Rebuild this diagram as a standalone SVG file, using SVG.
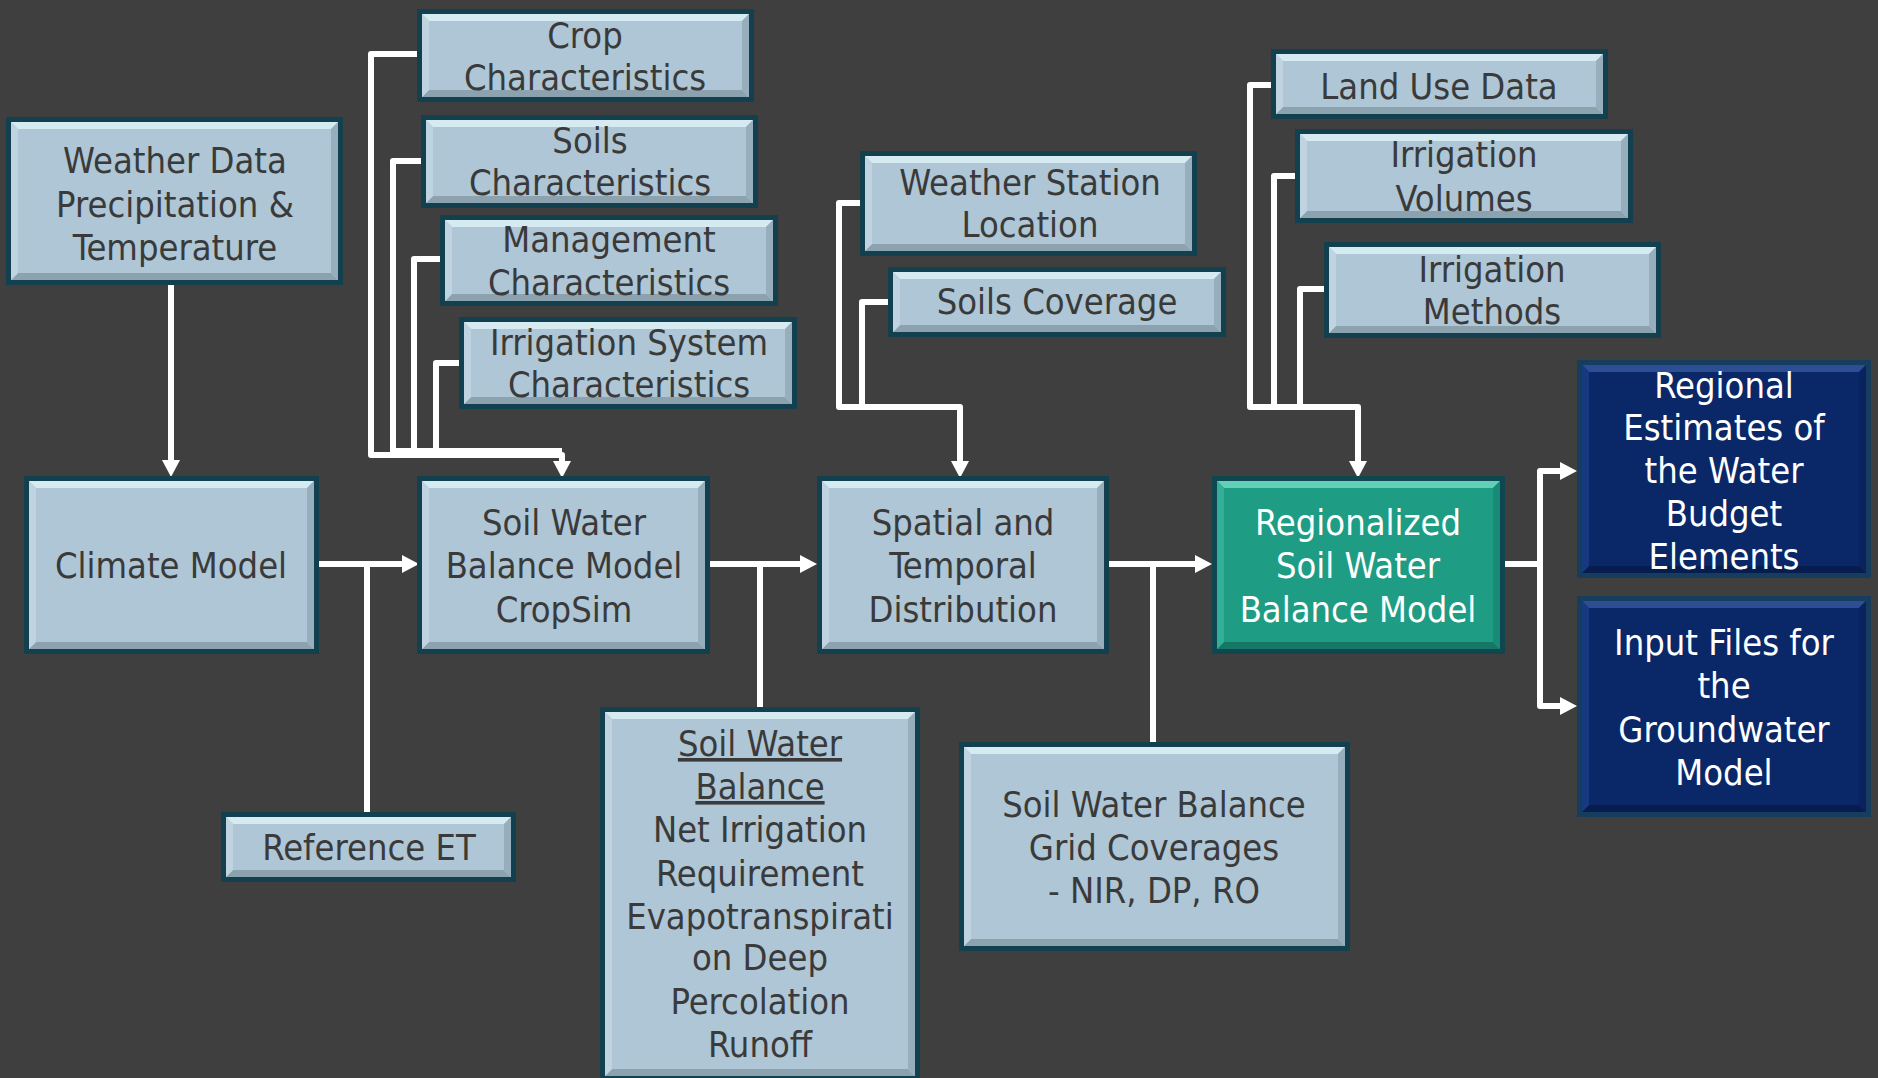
<svg xmlns="http://www.w3.org/2000/svg" width="1878" height="1078" viewBox="0 0 1878 1078">
<style>
.bg{fill:#3f3f3f}
.lt .bd{fill:#12404f}.lt .fc{fill:#aec6d5}.lt .bt{fill:#d6eaf2}.lt .bb{fill:#8ca2af}.lt .bl{fill:#bfd4e0}.lt .br{fill:#97aebc}
.tl .bd{fill:#0f4750}.tl .fc{fill:#1e9c84}.tl .bt{fill:#62cfb8}.tl .bb{fill:#157866}.tl .bl{fill:#35ae97}.tl .br{fill:#188a75}
.db .bd{fill:#163c5e}.db .fc{fill:#0a2868}.db .bt{fill:#2d4e94}.db .bb{fill:#071d4f}.db .bl{fill:#17397f}.db .br{fill:#0a235e}
text{font-family:"DejaVu Sans Condensed","Liberation Sans Narrow","Roboto Condensed","DejaVu Sans",sans-serif;font-stretch:condensed;font-size:36px;fill:#3a3a3a;text-anchor:middle}
.tl text,.db text{fill:#ffffff}
.cn path{fill:none;stroke:#ffffff;stroke-width:6;stroke-linejoin:round}
.u{text-decoration:underline}
</style>
<defs>
<marker id="ah" viewBox="0 0 17 18" markerWidth="17" markerHeight="18" refX="5" refY="9" orient="auto" markerUnits="userSpaceOnUse">
<path d="M0,0 L17,9 L0,18 z" fill="#ffffff"/>
</marker>
</defs>
<rect class="bg" x="0" y="0" width="1878" height="1078"/>

<g id="connectors" class="cn">
<path d="M171,285 V465" marker-end="url(#ah)"/>
<path d="M421,161 H393 V451 H562"/>
<path d="M440,259 H414 V451"/>
<path d="M459,363 H436 V451"/>
<path d="M417,54 H371 V455 H562 V466" marker-end="url(#ah)"/>
<path d="M888,302 H862 V407"/>
<path d="M860,203 H839 V407 H960 V466" marker-end="url(#ah)"/>
<path d="M1295,176 H1274 V407"/>
<path d="M1324,289 H1300 V407"/>
<path d="M1271,85 H1250 V407 H1358 V466" marker-end="url(#ah)"/>
<path d="M367,812 V564"/>
<path d="M319,564 H407" marker-end="url(#ah)"/>
<path d="M760,707 V564"/>
<path d="M710,564 H805" marker-end="url(#ah)"/>
<path d="M1153,742 V564"/>
<path d="M1109,564 H1200" marker-end="url(#ah)"/>
<path d="M1505,564 H1540"/>
<path d="M1540,706 V471 H1565" marker-end="url(#ah)"/>
<path d="M1540,471 V706 H1565" marker-end="url(#ah)"/>
</g>

<g id="n-crop" class="lt"><g transform="translate(417,9)">
<rect class="bd" width="337" height="93"/><rect class="fc" x="5" y="5" width="327" height="83"/>
<polygon class="bt" points="5,5 332,5 325,12 12,12"/><polygon class="bb" points="5,88 332,88 325,81 12,81"/>
<polygon class="bl" points="5,5 12,12 12,81 5,88"/><polygon class="br" points="332,5 325,12 325,81 332,88"/></g>
<text><tspan x="585" y="48">Crop</tspan><tspan x="585" y="90">Characteristics</tspan></text></g>

<g id="n-soils" class="lt"><g transform="translate(421,115)">
<rect class="bd" width="337" height="93"/><rect class="fc" x="5" y="5" width="327" height="83"/>
<polygon class="bt" points="5,5 332,5 325,12 12,12"/><polygon class="bb" points="5,88 332,88 325,81 12,81"/>
<polygon class="bl" points="5,5 12,12 12,81 5,88"/><polygon class="br" points="332,5 325,12 325,81 332,88"/></g>
<text><tspan x="590" y="153">Soils</tspan><tspan x="590" y="195">Characteristics</tspan></text></g>

<g id="n-management" class="lt"><g transform="translate(440,215)">
<rect class="bd" width="338" height="91"/><rect class="fc" x="5" y="5" width="328" height="81"/>
<polygon class="bt" points="5,5 333,5 326,12 12,12"/><polygon class="bb" points="5,86 333,86 326,79 12,79"/>
<polygon class="bl" points="5,5 12,12 12,79 5,86"/><polygon class="br" points="333,5 326,12 326,79 333,86"/></g>
<text><tspan x="609" y="252">Management</tspan><tspan x="609" y="295">Characteristics</tspan></text></g>

<g id="n-irrsys" class="lt"><g transform="translate(459,317)">
<rect class="bd" width="338" height="92"/><rect class="fc" x="5" y="5" width="328" height="82"/>
<polygon class="bt" points="5,5 333,5 326,12 12,12"/><polygon class="bb" points="5,87 333,87 326,80 12,80"/>
<polygon class="bl" points="5,5 12,12 12,80 5,87"/><polygon class="br" points="333,5 326,12 326,80 333,87"/></g>
<text><tspan x="629" y="355">Irrigation System</tspan><tspan x="629" y="397">Characteristics</tspan></text></g>

<g id="n-weather" class="lt"><g transform="translate(6,117)">
<rect class="bd" width="337" height="168"/><rect class="fc" x="5" y="5" width="327" height="158"/>
<polygon class="bt" points="5,5 332,5 325,12 12,12"/><polygon class="bb" points="5,163 332,163 325,156 12,156"/>
<polygon class="bl" points="5,5 12,12 12,156 5,163"/><polygon class="br" points="332,5 325,12 325,156 332,163"/></g>
<text><tspan x="175" y="173">Weather Data</tspan><tspan x="175" y="217">Precipitation &amp;</tspan><tspan x="175" y="260">Temperature</tspan></text></g>

<g id="n-climate" class="lt"><g transform="translate(24,476)">
<rect class="bd" width="295" height="178"/><rect class="fc" x="5" y="5" width="285" height="168"/>
<polygon class="bt" points="5,5 290,5 283,12 12,12"/><polygon class="bb" points="5,173 290,173 283,166 12,166"/>
<polygon class="bl" points="5,5 12,12 12,166 5,173"/><polygon class="br" points="290,5 283,12 283,166 290,173"/></g>
<text><tspan x="171" y="578">Climate Model</tspan></text></g>

<g id="n-swbm" class="lt"><g transform="translate(417,476)">
<rect class="bd" width="293" height="178"/><rect class="fc" x="5" y="5" width="283" height="168"/>
<polygon class="bt" points="5,5 288,5 281,12 12,12"/><polygon class="bb" points="5,173 288,173 281,166 12,166"/>
<polygon class="bl" points="5,5 12,12 12,166 5,173"/><polygon class="br" points="288,5 281,12 281,166 288,173"/></g>
<text><tspan x="564" y="535">Soil Water</tspan><tspan x="564" y="578">Balance Model</tspan><tspan x="564" y="622">CropSim</tspan></text></g>

<g id="n-spatial" class="lt"><g transform="translate(817,476)">
<rect class="bd" width="292" height="178"/><rect class="fc" x="5" y="5" width="282" height="168"/>
<polygon class="bt" points="5,5 287,5 280,12 12,12"/><polygon class="bb" points="5,173 287,173 280,166 12,166"/>
<polygon class="bl" points="5,5 12,12 12,166 5,173"/><polygon class="br" points="287,5 280,12 280,166 287,173"/></g>
<text><tspan x="963" y="535">Spatial and</tspan><tspan x="963" y="578">Temporal</tspan><tspan x="963" y="622">Distribution</tspan></text></g>

<g id="n-regionalized" class="tl"><g transform="translate(1212,476)">
<rect class="bd" width="293" height="178"/><rect class="fc" x="5" y="5" width="283" height="168"/>
<polygon class="bt" points="5,5 288,5 281,12 12,12"/><polygon class="bb" points="5,173 288,173 281,166 12,166"/>
<polygon class="bl" points="5,5 12,12 12,166 5,173"/><polygon class="br" points="288,5 281,12 281,166 288,173"/></g>
<text><tspan x="1358" y="535">Regionalized</tspan><tspan x="1358" y="578">Soil Water</tspan><tspan x="1358" y="622">Balance Model</tspan></text></g>

<g id="n-refet" class="lt"><g transform="translate(221,812)">
<rect class="bd" width="295" height="70"/><rect class="fc" x="5" y="5" width="285" height="60"/>
<polygon class="bt" points="5,5 290,5 283,12 12,12"/><polygon class="bb" points="5,65 290,65 283,58 12,58"/>
<polygon class="bl" points="5,5 12,12 12,58 5,65"/><polygon class="br" points="290,5 283,12 283,58 290,65"/></g>
<text><tspan x="369" y="860">Reference ET</tspan></text></g>

<g id="n-swb" class="lt"><g transform="translate(600,707)">
<rect class="bd" width="320" height="374"/><rect class="fc" x="5" y="5" width="310" height="364"/>
<polygon class="bt" points="5,5 315,5 308,12 12,12"/><polygon class="bb" points="5,369 315,369 308,362 12,362"/>
<polygon class="bl" points="5,5 12,12 12,362 5,369"/><polygon class="br" points="315,5 308,12 308,362 315,369"/></g>
<text><tspan class="u" x="760" y="756">Soil Water</tspan><tspan class="u" x="760" y="799">Balance</tspan><tspan x="760" y="842">Net Irrigation</tspan><tspan x="760" y="886">Requirement</tspan><tspan x="760" y="929">Evapotranspirati</tspan><tspan x="760" y="970">on Deep</tspan><tspan x="760" y="1014">Percolation</tspan><tspan x="760" y="1057">Runoff</tspan></text></g>

<g id="n-grid" class="lt"><g transform="translate(959,742)">
<rect class="bd" width="391" height="209"/><rect class="fc" x="5" y="5" width="381" height="199"/>
<polygon class="bt" points="5,5 386,5 379,12 12,12"/><polygon class="bb" points="5,204 386,204 379,197 12,197"/>
<polygon class="bl" points="5,5 12,12 12,197 5,204"/><polygon class="br" points="386,5 379,12 379,197 386,204"/></g>
<text><tspan x="1154" y="817">Soil Water Balance</tspan><tspan x="1154" y="860">Grid Coverages</tspan><tspan x="1154" y="903">- NIR, DP, RO</tspan></text></g>

<g id="n-regest" class="db"><g transform="translate(1577,360)">
<rect class="bd" width="294" height="218"/><rect class="fc" x="5" y="5" width="284" height="208"/>
<polygon class="bt" points="5,5 289,5 282,12 12,12"/><polygon class="bb" points="5,213 289,213 282,206 12,206"/>
<polygon class="bl" points="5,5 12,12 12,206 5,213"/><polygon class="br" points="289,5 282,12 282,206 289,213"/></g>
<text><tspan x="1724" y="398">Regional</tspan><tspan x="1724" y="440">Estimates of</tspan><tspan x="1724" y="483">the Water</tspan><tspan x="1724" y="526">Budget</tspan><tspan x="1724" y="569">Elements</tspan></text></g>

<g id="n-input" class="db"><g transform="translate(1577,596)">
<rect class="bd" width="294" height="221"/><rect class="fc" x="5" y="5" width="284" height="211"/>
<polygon class="bt" points="5,5 289,5 282,12 12,12"/><polygon class="bb" points="5,216 289,216 282,209 12,209"/>
<polygon class="bl" points="5,5 12,12 12,209 5,216"/><polygon class="br" points="289,5 282,12 282,209 289,216"/></g>
<text><tspan x="1724" y="655">Input Files for</tspan><tspan x="1724" y="698">the</tspan><tspan x="1724" y="742">Groundwater</tspan><tspan x="1724" y="785">Model</tspan></text></g>

<g id="n-landuse" class="lt"><g transform="translate(1271,49)">
<rect class="bd" width="337" height="70"/><rect class="fc" x="5" y="5" width="327" height="60"/>
<polygon class="bt" points="5,5 332,5 325,12 12,12"/><polygon class="bb" points="5,65 332,65 325,58 12,58"/>
<polygon class="bl" points="5,5 12,12 12,58 5,65"/><polygon class="br" points="332,5 325,12 325,58 332,65"/></g>
<text><tspan x="1439" y="99">Land Use Data</tspan></text></g>

<g id="n-irrvol" class="lt"><g transform="translate(1295,129)">
<rect class="bd" width="338" height="94"/><rect class="fc" x="5" y="5" width="328" height="84"/>
<polygon class="bt" points="5,5 333,5 326,12 12,12"/><polygon class="bb" points="5,89 333,89 326,82 12,82"/>
<polygon class="bl" points="5,5 12,12 12,82 5,89"/><polygon class="br" points="333,5 326,12 326,82 333,89"/></g>
<text><tspan x="1464" y="167">Irrigation</tspan><tspan x="1464" y="211">Volumes</tspan></text></g>

<g id="n-irrmeth" class="lt"><g transform="translate(1324,242)">
<rect class="bd" width="337" height="96"/><rect class="fc" x="5" y="5" width="327" height="86"/>
<polygon class="bt" points="5,5 332,5 325,12 12,12"/><polygon class="bb" points="5,91 332,91 325,84 12,84"/>
<polygon class="bl" points="5,5 12,12 12,84 5,91"/><polygon class="br" points="332,5 325,12 325,84 332,91"/></g>
<text><tspan x="1492" y="282">Irrigation</tspan><tspan x="1492" y="324">Methods</tspan></text></g>

<g id="n-wsl" class="lt"><g transform="translate(860,151)">
<rect class="bd" width="337" height="105"/><rect class="fc" x="5" y="5" width="327" height="95"/>
<polygon class="bt" points="5,5 332,5 325,12 12,12"/><polygon class="bb" points="5,100 332,100 325,93 12,93"/>
<polygon class="bl" points="5,5 12,12 12,93 5,100"/><polygon class="br" points="332,5 325,12 325,93 332,100"/></g>
<text><tspan x="1030" y="195">Weather Station</tspan><tspan x="1030" y="237">Location</tspan></text></g>

<g id="n-soilcov" class="lt"><g transform="translate(888,267)">
<rect class="bd" width="338" height="70"/><rect class="fc" x="5" y="5" width="328" height="60"/>
<polygon class="bt" points="5,5 333,5 326,12 12,12"/><polygon class="bb" points="5,65 333,65 326,58 12,58"/>
<polygon class="bl" points="5,5 12,12 12,58 5,65"/><polygon class="br" points="333,5 326,12 326,58 333,65"/></g>
<text><tspan x="1057" y="314">Soils Coverage</tspan></text></g>
</svg>
